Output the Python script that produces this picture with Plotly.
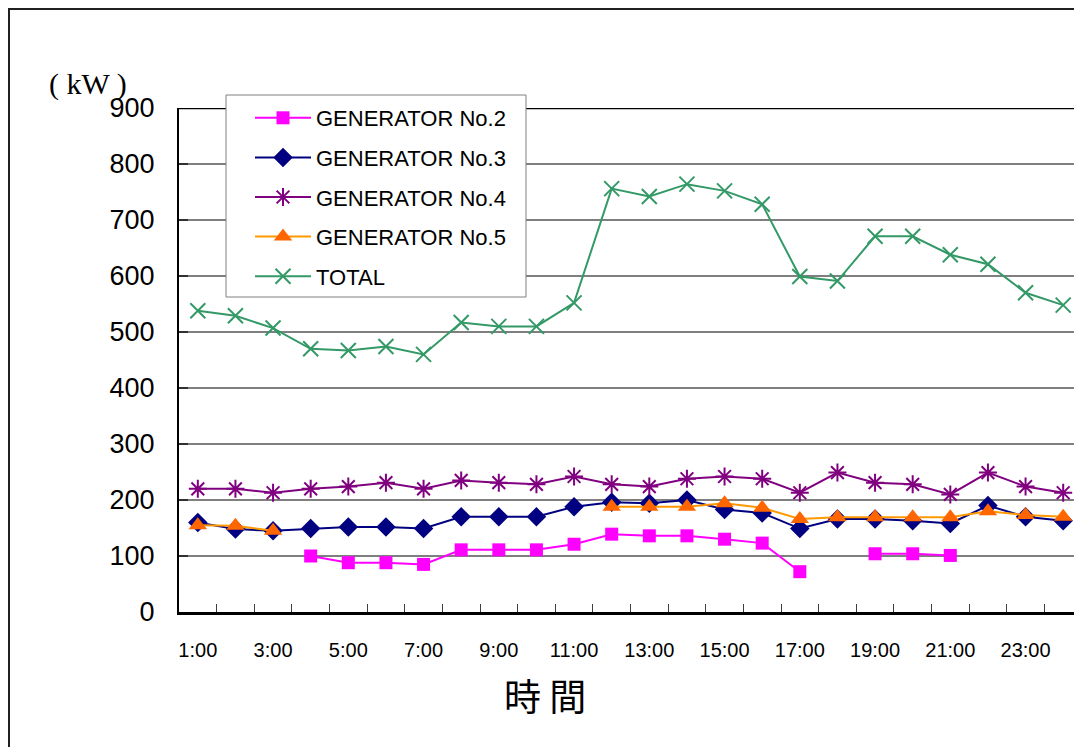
import plotly.graph_objects as go

hours = [f"{h}:00" for h in range(1, 25)]
label_hours = hours[0::2]

gen2 = [None, None, None, 100, 88, 88, 85, 111, 111, 111, 121, 139, 136, 136, 130, 123, 72, None, 104, 104, 101, None, None, None]
gen3 = [160, 148, 145, 149, 152, 152, 149, 170, 170, 170, 188, 196, 194, 200, 183, 177, 149, 166, 166, 163, 158, 190, 170, 163]
gen4 = [220, 220, 213, 220, 224, 231, 220, 235, 231, 228, 242, 228, 224, 238, 242, 238, 213, 249, 231, 228, 210, 249, 224, 213]
gen5 = [155, 154, 145, None, None, None, None, None, None, None, None, 188, 188, 188, 194, 186, 166, 169, 169, 169, 169, 180, 173, 170]
total = [538, 529, 507, 470, 467, 474, 460, 517, 510, 510, 552, 756, 742, 764, 752, 728, 599, 591, 671, 671, 638, 621, 570, 548]

x = list(range(1, len(hours) + 1))

# page offset of the figure (default body margin)
OFF = 8
W, H = 1082 - OFF, 747 - OFF
L, R, T = 179 - OFF, 0, 108 - OFF
B = H - (612 - OFF)
pw, ph = W - L - R, H - T - B

def px2x(p):
    return (p - OFF - L) / pw

def py2y(p):
    return (H - B - (p - OFF)) / ph

fig = go.Figure()

series = [
    ("GENERATOR No.2", gen2, "#FF00FF", dict(symbol="square", size=13, color="#FF00FF")),
    ("GENERATOR No.3", gen3, "#000080", dict(symbol="diamond", size=15, color="#000080")),
    ("GENERATOR No.4", gen4, "#800080", dict(symbol="asterisk-open", size=15, color="#800080", line=dict(color="#800080", width=2))),
    ("GENERATOR No.5", gen5, "#FF9900", dict(symbol="triangle-up", size=16, color="#FF6600")),
    ("TOTAL", total, "#339966", dict(symbol="x-thin-open", size=15, color="#339966", line=dict(color="#339966", width=2))),
]

for name, vals, col, mk in series:
    fig.add_trace(go.Scatter(
        x=x, y=vals, name=name, mode="lines+markers",
        line=dict(color=col, width=2), marker=mk,
        connectgaps=False, legendgroup=name,
    ))

fig.update_layout(
    width=W, height=H,
    margin=dict(l=L, r=R, t=T, b=B, pad=0),
    paper_bgcolor="white", plot_bgcolor="white",
    font=dict(family="Liberation Sans, Arial, sans-serif", color="black"),
    showlegend=True,
    legend=dict(
        x=px2x(250), y=py2y(97), xanchor="left", yanchor="top",
        bgcolor="rgba(0,0,0,0)", borderwidth=0,
        font=dict(size=22, family="Liberation Sans, Arial, sans-serif"),
        tracegroupgap=8, itemwidth=56,
    ),
    xaxis=dict(
        range=[0.5, len(hours) + 0.5],
        tickmode="array", tickvals=x[0::2], ticktext=label_hours,
        ticks="", showgrid=False, zeroline=False,
        showline=True, linecolor="black", linewidth=2.5,
        tickfont=dict(size=20), ticklabelstandoff=18,
        minor=dict(tickmode="array", tickvals=[v + 0.5 for v in x[:-1]],
                   ticks="inside", ticklen=8, tickcolor="#404040", tickwidth=1, showgrid=False),
    ),
    yaxis=dict(
        range=[0, 900], dtick=100, tick0=0,
        showgrid=True, gridcolor="#7f7f7f", gridwidth=1.5,
        zeroline=False, showline=True, linecolor="black", linewidth=2,
        ticks="inside", ticklen=9, tickcolor="#303030", tickwidth=1.5,
        tickfont=dict(size=27), ticklabelstandoff=17,
    ),
    shapes=[
        dict(type="line", xref="paper", yref="y", x0=0, x1=1, y0=900, y1=900,
             line=dict(color="black", width=2.5)),
        dict(type="rect", xref="paper", yref="paper",
             x0=px2x(OFF + 1), x1=px2x(1082 + 20), y0=py2y(747 + 20), y1=py2y(OFF + 1),
             line=dict(color="#202020", width=2), fillcolor="rgba(0,0,0,0)", layer="below"),
        dict(type="rect", xref="paper", yref="paper",
             x0=px2x(226), x1=px2x(526), y0=py2y(297), y1=py2y(95),
             line=dict(color="#808080", width=1), fillcolor="white", layer="above"),
    ],
    annotations=[
        dict(text="( kW )", xref="paper", yref="paper", x=px2x(88), y=py2y(84),
             xanchor="center", yanchor="middle", showarrow=False,
             font=dict(family="Liberation Serif, Times New Roman, serif", size=30)),
        dict(text="時 間", xref="paper", yref="paper", x=px2x(545), y=py2y(695),
             xanchor="center", yanchor="middle", showarrow=False,
             font=dict(family="Noto Sans CJK JP, sans-serif", size=37)),
    ],
)

fig.write_html("out.html")
